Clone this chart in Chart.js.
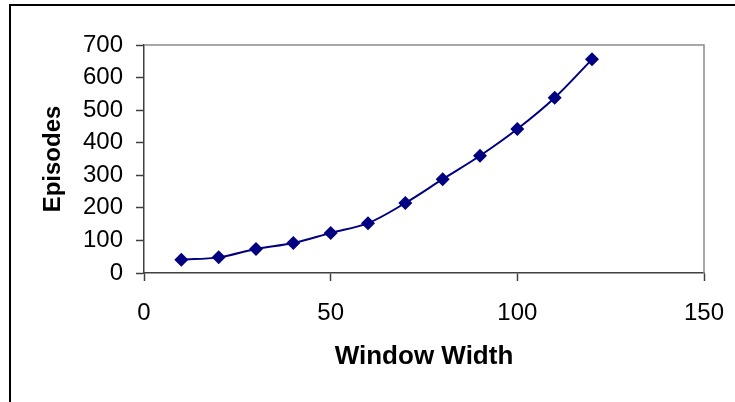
<!DOCTYPE html>
<html>
<head>
<meta charset="utf-8">
<script src="https://cdn.jsdelivr.net/npm/chart.js@4/dist/chart.umd.min.js"></script>
<style>
html,body{margin:0;padding:0;background:#fff;overflow:hidden;}
#wrap{position:relative;width:735px;height:402px;}
#frame{position:absolute;left:9px;top:4px;width:900px;height:600px;border-left:2px solid #000;border-top:2px solid #000;box-sizing:border-box;}
canvas{position:absolute;left:0;top:0;}
</style>
</head>
<body>
<div id="wrap">
<div id="frame"></div>
<canvas id="c" width="735" height="402"></canvas>
</div>
<script>
const windowWidth = [10, 20, 30, 40, 50, 60, 70, 80, 90, 100, 110, 120];
const episodes = [41, 48, 74, 92, 123, 153, 215, 288, 360, 442, 538, 656];
const xTicks = [0, 50, 100, 150];
const yTicks = [0, 100, 200, 300, 400, 500, 600, 700];
const xTitle = 'Window Width';
const yTitle = 'Episodes';

const frameBox = {
  id: 'frameBox',
  afterDraw(chart) {
    const a = chart.chartArea, ctx = chart.ctx;
    ctx.save();
    ctx.strokeStyle = '#8a8a8a';
    ctx.lineWidth = 1.5;
    ctx.beginPath();
    ctx.moveTo(a.left, a.top);
    ctx.lineTo(a.right, a.top);
    ctx.lineTo(a.right, a.bottom);
    ctx.stroke();
    ctx.restore();
  }
};

new Chart(document.getElementById('c'), {
  type: 'scatter',
  data: {
    datasets: [{
      data: windowWidth.map((x, i) => ({x: x, y: episodes[i]})),
      showLine: true,
      tension: 0.35,
      borderColor: '#000080',
      borderWidth: 2,
      backgroundColor: '#000080',
      pointStyle: 'rectRot',
      pointRadius: 7,
      pointBorderWidth: 0,
      pointHoverRadius: 7
    }]
  },
  options: {
    responsive: false,
    animation: false,
    events: [],
    layout: {padding: {left: 35, top: 45, right: 31, bottom: 26}},
    plugins: {legend: {display: false}, tooltip: {enabled: false}},
    scales: {
      x: {
        type: 'linear',
        min: 0, max: 150,
        afterBuildTicks(s) { s.ticks = xTicks.map(v => ({value: v})); },
        afterFit(s) { s.height = 103; s.paddingLeft = 0; s.paddingRight = 0; },
        ticks: {color: '#000', font: {family: '"Liberation Sans", Arial', size: 24}, padding: 18, maxRotation: 0},
        grid: {drawOnChartArea: false, tickLength: 8, tickColor: '#404040', tickWidth: 1.5},
        border: {color: '#404040', width: 1.5},
        title: {display: true, text: xTitle, color: '#000', font: {family: '"Liberation Sans", Arial', size: 26, weight: 'bold'}, padding: {top: 4, bottom: 4}}
      },
      y: {
        type: 'linear',
        min: 0, max: 700,
        afterBuildTicks(s) { s.ticks = yTicks.map(v => ({value: v})); },
        afterFit(s) { s.width = 109; s.paddingTop = 0; s.paddingBottom = 0; },
        ticks: {color: '#000', font: {family: '"Liberation Sans", Arial', size: 24}, padding: 13},
        grid: {drawOnChartArea: false, tickLength: 8, tickColor: '#404040', tickWidth: 1.5},
        border: {color: '#404040', width: 1.5},
        title: {display: true, text: yTitle, color: '#000', font: {family: '"Liberation Sans", Arial', size: 24, weight: 'bold'}, padding: {top: 4, bottom: 4}}
      }
    }
  },
  plugins: [frameBox]
});
</script>
</body>
</html>
